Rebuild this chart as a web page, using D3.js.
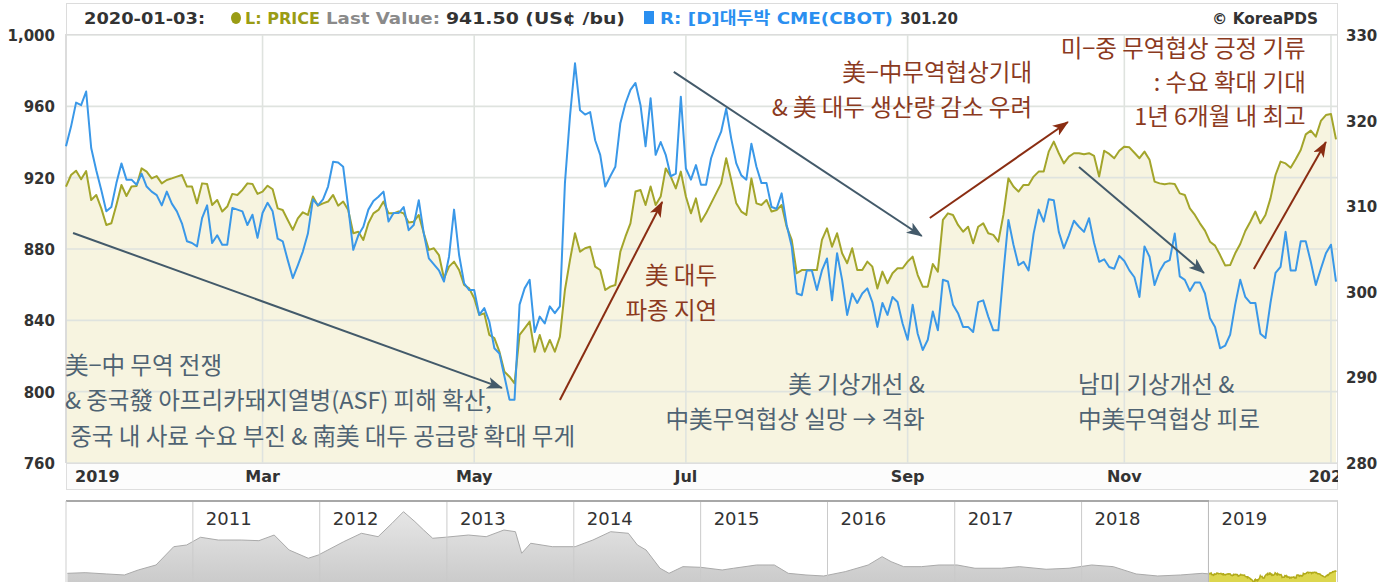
<!DOCTYPE html>
<html>
<head>
<meta charset="utf-8">
<script src="https://cdn.jsdelivr.net/npm/d3@7"></script>
<style>
  body { margin: 0; background: #fff; }
  text { font-family: "DejaVu Sans", "Noto Sans CJK KR", sans-serif; }
</style>
</head>
<body>
<svg id="chart" width="1394" height="582"></svg>
<script>
// ---- data -------------------------------------------------------------
// trading days 2019-01-03 .. 2020-01-03 (weekends + these closures skipped)
const holidays = ['2019-01-21','2019-02-18','2019-04-19','2019-05-27','2019-07-04',
                  '2019-09-02','2019-11-28','2019-12-25','2020-01-01'];

// L: soybean PRICE, US¢/bu (one value per trading day)
const priceVals = [
  915.0,921.5,923.9,919.1,923.7,907.5,910.3,902.8,893.5,894.4,
  904.7,915.9,909.7,915.0,915.3,925.2,923.4,919.6,920.9,916.8,
  918.7,919.6,920.6,921.5,915.0,915.0,905.6,916.8,916.5,904.7,
  907.5,901.0,903.8,910.9,910.3,913.1,916.8,916.5,910.9,912.2,
  915.5,913.5,902.8,901.9,896.3,890.7,897.2,900.6,899.1,909.4,
  904.3,905.6,906.6,910.3,904.3,906.6,901.9,888.8,889.7,885.1,
  894.4,900.0,901.9,906.6,900.0,900.0,901.0,900.0,894.8,895.3,
  899.1,888.8,879.5,880.4,876.6,863.6,870.1,872.9,868.2,859.8,
  857.9,852.4,843.0,843.9,831.8,830.0,822.4,811.2,808.4,804.7,
  831.8,835.5,839.3,822.4,831.8,822.4,829.0,822.4,830.9,857.0,
  873.8,888.8,878.5,880.4,881.3,870.1,868.2,857.0,858.9,859.8,
  878.5,886.9,894.4,912.2,913.1,904.7,915.0,904.7,909.4,925.2,
  920.6,914.0,923.4,909.4,900.0,908.4,895.3,900.0,905.6,911.2,
  916.8,930.9,918.7,905.6,901.0,899.1,919.6,905.6,904.7,907.5,
  901.0,901.9,904.7,892.5,885.1,866.4,868.2,868.2,868.2,868.2,
  885.1,891.6,881.3,888.8,877.6,872.0,880.4,868.2,868.2,872.9,
  870.1,857.9,867.3,860.8,866.4,869.2,869.2,872.9,875.7,865.4,
  858.9,858.9,871.6,867.3,896.3,900.0,899.1,893.5,889.7,892.5,
  883.2,892.5,894.4,888.8,887.9,884.1,899.1,919.6,915.0,912.2,
  915.9,915.9,920.6,923.4,923.4,934.6,940.2,933.7,928.0,931.8,
  933.7,933.7,933.1,933.7,932.2,920.6,935.1,933.3,930.9,935.1,
  937.4,937.0,934.0,930.9,934.6,930.0,917.8,916.8,916.3,916.8,
  916.5,911.2,910.3,902.8,899.1,894.4,890.3,884.1,881.9,876.6,
  870.8,871.0,877.6,882.8,890.1,895.3,901.0,894.4,899.1,908.4,
  921.5,929.0,928.0,925.6,930.3,935.5,944.3,946.4,943.0,951.8,
  955.1,955.7,941.5
];

// R: [D] soybean meal CME(CBOT)
const mealVals = [
  317.0,319.3,322.1,321.8,323.4,316.8,314.2,311.9,309.4,309.9,
  312.7,315.0,313.1,313.1,312.5,313.8,312.3,311.7,311.3,310.1,
  311.7,310.3,309.4,308.0,305.9,305.7,305.3,308.6,310.1,305.7,
  306.6,305.5,305.5,309.8,309.6,309.4,307.8,309.0,306.3,309.2,
  310.4,309.4,306.2,305.9,303.7,301.6,303.1,304.7,306.8,310.8,
  310.1,310.8,312.3,315.2,315.1,314.6,309.9,304.9,306.6,307.6,
  309.6,310.6,311.1,311.7,308.2,309.2,309.2,309.9,307.2,307.8,
  310.7,306.8,303.9,303.2,302.5,301.2,304.1,309.6,304.3,301.0,
  300.2,300.2,297.3,298.1,296.5,293.4,292.8,290.1,287.4,287.4,
  298.5,300.4,301.4,295.3,297.1,296.3,298.3,297.5,298.3,312.7,
  320.5,326.7,321.2,320.7,321.0,317.7,316.0,312.3,313.5,314.6,
  319.7,322.0,323.6,324.4,321.8,317.0,322.6,316.0,317.5,316.0,
  313.5,313.8,322.8,314.4,313.1,314.8,312.5,312.5,315.6,317.3,
  318.7,321.4,317.9,315.0,313.6,313.1,317.3,314.6,312.7,312.7,
  309.9,309.7,311.5,307.8,305.3,299.8,299.6,302.5,302.5,300.2,
  302.5,303.9,299.0,304.5,301.4,297.3,299.8,298.7,299.8,300.4,
  298.8,295.9,298.7,297.3,299.4,298.8,296.3,294.4,298.5,295.1,
  293.2,294.4,297.7,295.5,301.4,301.2,298.5,297.5,295.9,295.9,
  295.3,298.8,299.0,297.1,295.5,295.5,302.2,308.4,305.5,303.1,
  303.5,302.5,306.8,309.6,308.2,310.8,310.7,307.0,305.1,306.6,
  308.3,307.6,307.0,308.6,305.7,303.5,303.8,302.9,302.7,304.2,
  303.6,302.5,301.7,299.4,305.3,304.1,300.8,302.4,303.4,303.7,
  306.8,301.8,301.4,300.1,301.1,301.1,299.8,296.9,295.9,293.4,
  293.7,295.0,298.5,301.4,299.4,298.7,298.7,295.1,294.6,298.7,
  302.2,302.9,307.0,302.5,302.5,305.9,305.9,303.5,300.8,302.7,
  304.5,305.5,301.2
];

const leftTicks = [760, 800, 840, 880, 920, 960, 1000];
const rightTicks = [280, 290, 300, 310, 320, 330];
const monthTicks = ['2019-01','2019-03','2019-05','2019-07','2019-09','2019-11','2020-01'];

// navigator: price history 2010-2018 (decimal year, US¢/bu)
const navYears = [2010.01,2010.15,2010.32,2010.46,2010.57,2010.71,2010.85,2010.95,2011.06,2011.20,
                  2011.38,2011.52,2011.64,2011.76,2011.91,2011.99,2012.19,2012.33,2012.46,2012.57,
                  2012.66,2012.75,2012.82,2012.89,2012.99,2013.17,2013.31,2013.45,2013.54,2013.59,
                  2013.66,2013.83,2014.01,2014.15,2014.29,2014.43,2014.50,2014.57,2014.68,2014.75,
                  2014.86,2015.00,2015.17,2015.26,2015.44,2015.58,2015.69,2015.83,2015.97,2016.14,
                  2016.32,2016.43,2016.50,2016.60,2016.74,2016.88,2017.02,2017.16,2017.37,2017.51,
                  2017.72,2017.90,2018.08,2018.25,2018.43,2018.60,2018.78,2018.95];
const navVals = [923,932,914,900,969,1038,1291,1314,1421,1383,
                 1383,1374,1452,1245,1131,1176,1360,1476,1429,1614,
                 1774,1636,1521,1407,1421,1452,1429,1521,1498,1200,
                 1338,1291,1291,1383,1498,1476,1314,1245,993,923,
                 1015,1006,969,993,1038,1038,923,900,886,946,
                 1038,1153,1084,1015,1015,1038,1038,993,993,1015,
                 979,993,1038,1015,914,886,900,923];
const navYearLabels = [2011,2012,2013,2014,2015,2016,2017,2018,2019];

// header legend pieces: text, x, width, colour
const header = [
  ['2020-01-03:', 84, 121, '#333'],
  ['L: PRICE', 245, 75, '#9a9c14'],
  ['Last Value:', 326, 114, '#8a8a8a'],
  ['941.50 (US¢ /bu)', 446, 179, '#333'],
  ['R: [D]대두박 CME(CBOT)', 660, 233, '#2a8ff0'],
  ['301.20', 900, 58, '#333'],
  ['© KoreaPDS', 1212, 106, '#333']
];

// annotations (anchor in trading-day index / left-axis value)
const notes = [
  {lines:['美−中 무역 전쟁','& 중국發 아프리카돼지열병(ASF) 피해 확산,',' 중국 내 사료 수요 부진 & 南美 대두 공급량 확대 무게'],
   i:-0.2, v:814.4, anchor:'start', kind:'down'},
  {lines:['美 대두','파종 지연'], i:129.2, v:864.9, anchor:'end', kind:'up'},
  {lines:['美−中무역협상기대','& 美 대두 생산량 감소 우려'], i:191.7, v:978.7, anchor:'end', kind:'up'},
  {lines:['미−중 무역협상 긍정 기류',': 수요 확대 기대','1년 6개월 내 최고'], i:246.0, v:992.2, anchor:'end', kind:'up', lh:34},
  {lines:['美 기상개선 &','中美무역협상 실망 → 격화'], i:170.4, v:803.8, anchor:'end', kind:'down'},
  {lines:['남미 기상개선 &','中美무역협상 피로'], i:200.8, v:803.8, anchor:'start', kind:'down'}
];
const arrows = [
  {from:[1.4, 889.0],   to:[86.5, 802.1],  kind:'down'},
  {from:[120.6, 979.3], to:[169.8, 887.3], kind:'down'},
  {from:[201.0, 926.0], to:[225.8, 866.6], kind:'down'},
  {from:[98.0, 795.3],  to:[118.3, 906.4], kind:'up'},
  {from:[171.4, 897.4], to:[198.8, 951.2], kind:'up'},
  {from:[235.7, 868.8], to:[250.0, 940.0], kind:'up'}
];

// ---- setup ------------------------------------------------------------
const olive = '#a3a52b', blue = '#3a98e8';
const slate = '#435a6a', brown = '#8a2d12';
const textCol = {down:'#4f6373', up:'#8b3a1e'};
const lineCol = {down:slate, up:brown};

const parse = d3.timeParse('%Y-%m-%d');
const fmtDay = d3.timeFormat('%Y-%m-%d');
const tradingDays = d3.timeDays(new Date(2019,0,3), new Date(2020,0,4))
  .filter(d => d.getDay() !== 0 && d.getDay() !== 6 && holidays.indexOf(fmtDay(d)) < 0);

const pLeft = 66, pRight = 1336, pTop = 35, pBottom = 463;
const x = d3.scaleLinear().domain([0, priceVals.length - 1]).range([pLeft, pRight]);
const yL = d3.scaleLinear().domain([760, 1000]).range([pBottom, pTop]);
const yR = d3.scaleLinear().domain([280, 330]).range([pBottom, pTop]);

const svg = d3.select('#chart');
const defs = svg.append('defs');

// header box
svg.append('rect').attr('x', 66.5).attr('y', 3.5).attr('width', 1271).attr('height', 31)
  .attr('fill', '#fff').attr('stroke', '#dcdcdc');
const hdr = svg.append('g').style('font-weight', 'bold').style('font-size', '16.5px');
hdr.selectAll('text').data(header).enter().append('text')
  .attr('x', d => d[1]).attr('y', 24)
  .attr('textLength', d => d[2]).attr('lengthAdjust', 'spacingAndGlyphs')
  .attr('fill', d => d[3]).text(d => d[0]);
hdr.append('ellipse').attr('cx', 236).attr('cy', 18).attr('rx', 5).attr('ry', 6).attr('fill', '#9a9c14');
hdr.append('rect').attr('x', 644).attr('y', 11).attr('width', 10).attr('height', 13).attr('fill', '#2a8ff0');

// plot frame
svg.append('rect').attr('x', pLeft).attr('y', 34).attr('width', 1271).attr('height', pBottom - 34)
  .attr('fill', '#fff');

// price area fill
const area = d3.area().x((d, i) => x(i)).y0(pBottom).y1(d => yL(d));
svg.append('path').datum(priceVals).attr('d', area)
  .attr('fill', '#c8b420').attr('fill-opacity', 0.14);

// grid
const monthIdx = monthTicks.map(m => {
  const start = parse(m + '-01');
  return tradingDays.findIndex(d => d >= start);
});
svg.append('g').selectAll('line').data(leftTicks).enter().append('line')
  .attr('x1', pLeft).attr('x2', pRight + 2).attr('y1', d => yL(d)).attr('y2', d => yL(d))
  .attr('stroke', '#dfe3df').attr('stroke-width', 1.6);
svg.append('g').selectAll('line').data(monthIdx).enter().append('line')
  .attr('x1', d => x(d)).attr('x2', d => x(d)).attr('y1', 34).attr('y2', pBottom)
  .attr('stroke', '#dfe3df').attr('stroke-width', 1.6);
svg.append('line').attr('x1', pLeft).attr('x2', pLeft).attr('y1', 34).attr('y2', pBottom)
  .attr('stroke', '#d8d8d8').attr('stroke-width', 1.5);
svg.append('line').attr('x1', pRight + 1.5).attr('x2', pRight + 1.5).attr('y1', 34).attr('y2', 490)
  .attr('stroke', '#dcdcdc');
svg.append('line').attr('x1', pLeft).attr('x2', pRight + 2).attr('y1', 34.5).attr('y2', 34.5)
  .attr('stroke', '#dcdcdc');

// series lines
const lineL = d3.line().x((d, i) => x(i)).y(d => yL(d));
const lineR = d3.line().x((d, i) => x(i)).y(d => yR(d));
svg.append('path').datum(priceVals).attr('d', lineL)
  .attr('fill', 'none').attr('stroke', olive).attr('stroke-width', 2).attr('stroke-linejoin', 'round');
svg.append('path').datum(mealVals).attr('d', lineR)
  .attr('fill', 'none').attr('stroke', blue).attr('stroke-width', 2).attr('stroke-linejoin', 'round');

// y axes
svg.append('g').selectAll('text').data(leftTicks).enter().append('text')
  .attr('x', 55).attr('y', d => yL(d) + 6).attr('text-anchor', 'end')
  .attr('fill', '#333').style('font-size', '15px').style('font-weight', 'bold')
  .text(d3.format(','));
svg.append('g').selectAll('text').data(rightTicks).enter().append('text')
  .attr('x', 1346).attr('y', d => yR(d) + 6)
  .attr('fill', '#333').style('font-size', '15px').style('font-weight', 'bold')
  .text(d => d);

// x axis band
defs.append('clipPath').attr('id', 'xclip').append('rect')
  .attr('x', pLeft).attr('y', pBottom).attr('width', 1272).attr('height', 28);
svg.append('rect').attr('x', pLeft + 0.5).attr('y', pBottom + 0.5).attr('width', 1271).attr('height', 26)
  .attr('fill', '#fcfcfc').attr('stroke', '#dedede');
const monthFmt = d3.timeFormat('%b');
svg.append('g').attr('clip-path', 'url(#xclip)').selectAll('text').data(monthIdx).enter().append('text')
  .attr('x', (d, i) => i === 0 ? 75 : x(d))
  .attr('y', 482)
  .attr('text-anchor', (d, i) => i === 0 ? 'start' : 'middle')
  .attr('fill', '#333').style('font-size', '16px').style('font-weight', 'bold')
  .text(d => {
    const dt = tradingDays[d];
    return dt.getMonth() === 0 ? dt.getFullYear() : monthFmt(dt);
  });

// annotations
function marker(id, color) {
  defs.append('marker').attr('id', id).attr('viewBox', '0 0 16 12')
    .attr('refX', 15).attr('refY', 6).attr('markerWidth', 16).attr('markerHeight', 12)
    .attr('markerUnits', 'userSpaceOnUse').attr('orient', 'auto')
    .append('path').attr('d', 'M0,0 L16,6 L0,12 L4,6 Z').attr('fill', color);
}
marker('arr-down', slate);
marker('arr-up', brown);

svg.append('g').selectAll('line').data(arrows).enter().append('line')
  .attr('x1', d => x(d.from[0])).attr('y1', d => yL(d.from[1]))
  .attr('x2', d => x(d.to[0])).attr('y2', d => yL(d.to[1]))
  .attr('stroke', d => lineCol[d.kind]).attr('stroke-width', 2)
  .attr('marker-end', d => 'url(#arr-' + d.kind + ')');

const noteG = svg.append('g').selectAll('text').data(notes).enter().append('text')
  .attr('text-anchor', d => d.anchor)
  .attr('fill', d => textCol[d.kind])
  .style('font-family', '"Noto Sans CJK KR", sans-serif')
  .style('font-size', '23.5px')
  .style('white-space', 'pre');
noteG.selectAll('tspan').data(d => d.lines.map((s, k) => ({s: s, k: k, n: d}))).enter().append('tspan')
  .attr('x', d => x(d.n.i))
  .attr('y', d => yL(d.n.v) + d.k * (d.n.lh || 35.5) + 8)
  .text(d => d.s);

// ---- navigator --------------------------------------------------------
const navTop = 501, navBottom = 582;
const navX = d3.scaleTime().domain([new Date(2010,0,1), new Date(2020,0,3)]).range([pLeft, 1336]);
const navY = d3.scaleLinear().domain([803, 1922]).range([navBottom, navTop]);
const yearToDate = y => d3.timeDay.offset(new Date(Math.floor(y), 0, 1), Math.round((y % 1) * 365));

const navData = navYears.map((y, i) => ({t: yearToDate(y), v: navVals[i]}))
  .concat(priceVals.map((v, i) => ({t: tradingDays[i], v: v})));

const grad = defs.append('linearGradient').attr('id', 'navgrad')
  .attr('x1', 0).attr('y1', 0).attr('x2', 0).attr('y2', 1);
grad.append('stop').attr('offset', '0%').attr('stop-color', '#e6e6e6');
grad.append('stop').attr('offset', '100%').attr('stop-color', '#c9c9c9');

svg.append('rect').attr('x', pLeft).attr('y', navTop).attr('width', 1272).attr('height', navBottom - navTop)
  .attr('fill', '#fff');
const navArea = d3.area().x(d => navX(d.t)).y0(navBottom + 5).y1(d => navY(d.v));
const navLine = d3.line().x(d => navX(d.t)).y(d => navY(d.v));
svg.append('path').datum(navData).attr('d', navArea).attr('fill', 'url(#navgrad)');
svg.append('path').datum(navData).attr('d', navLine).attr('fill', 'none').attr('stroke', '#aaa');

// selected range (2019) highlighted
const selX = navX(tradingDays[0]);
defs.append('clipPath').attr('id', 'selclip').append('rect')
  .attr('x', selX).attr('y', navTop).attr('width', 1338 - selX).attr('height', navBottom - navTop);
const selG = svg.append('g').attr('clip-path', 'url(#selclip)');
selG.append('rect').attr('x', selX).attr('y', navTop).attr('width', 1338 - selX).attr('height', 90).attr('fill', '#fff');
selG.append('path').datum(navData).attr('d', navArea).attr('fill', '#dcd64e');
selG.append('path').datum(navData).attr('d', navLine).attr('fill', 'none').attr('stroke', '#b2ab1a').attr('stroke-width', 1.5);

// year separators + labels
const navYearG = svg.append('g').selectAll('g').data(navYearLabels).enter().append('g')
  .attr('transform', d => 'translate(' + navX(new Date(d, 0, 1)) + ',0)');
navYearG.append('line').attr('y1', navTop).attr('y2', navBottom)
  .attr('stroke', d => d === 2019 ? '#b8b8b8' : '#cacaca');
navYearG.append('text').attr('x', 13).attr('y', 525)
  .attr('fill', '#333').style('font-size', '18px')
  .text(d => d);

// navigator outline
svg.append('line').attr('x1', pLeft).attr('x2', selX).attr('y1', navTop).attr('y2', navTop)
  .attr('stroke', '#a8a8a8').attr('stroke-width', 2);
svg.append('line').attr('x1', selX).attr('x2', 1338).attr('y1', navTop).attr('y2', navTop)
  .attr('stroke', '#d6d6d6').attr('stroke-width', 2);
svg.append('line').attr('x1', 1337.5).attr('x2', 1337.5).attr('y1', navTop).attr('y2', navBottom)
  .attr('stroke', '#cfcfcf');
svg.append('line').attr('x1', pLeft).attr('x2', pLeft).attr('y1', navTop).attr('y2', navBottom)
  .attr('stroke', '#cfcfcf');
</script>
</body>
</html>
